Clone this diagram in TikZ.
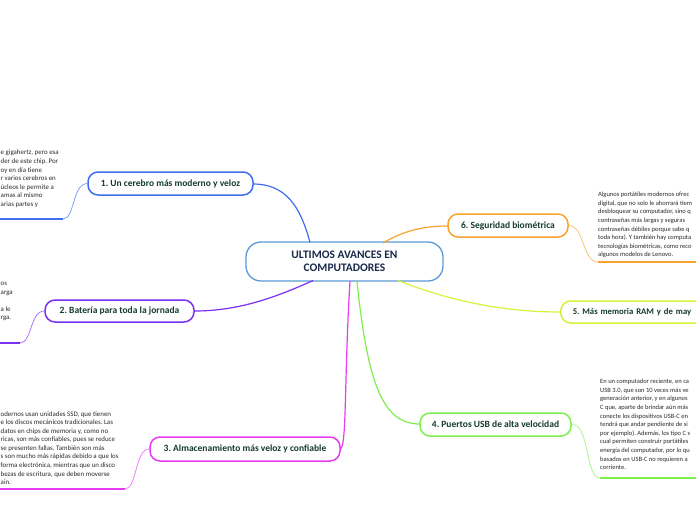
\documentclass[tikz,border=0pt]{standalone}
\usepackage{fontspec}
\setmainfont{Carlito}
\frenchspacing
\definecolor{cblue}{HTML}{5B9BD5}
\definecolor{bone}{HTML}{3F6FF0}
\definecolor{btwo}{HTML}{7B2FF7}
\definecolor{bthree}{HTML}{E53CF2}
\definecolor{bfour}{HTML}{7FEE4F}
\definecolor{bfive}{HTML}{D8F23C}
\definecolor{bsix}{HTML}{F7A32F}
\definecolor{txt}{HTML}{153B2E}
\definecolor{ctxt}{HTML}{1B2A4A}
\definecolor{notetxt}{HTML}{2A2A2A}
\tikzset{
  topic/.style={draw, line width=1.5pt, rounded corners=10pt, fill=white,
    font=\bfseries\fontsize{9.5}{11}\selectfont, text=txt, minimum height=23pt, inner sep=0pt},
  note/.style={font=\fontsize{6.9}{8.6}\selectfont, align=left, text=notetxt, inner sep=0pt, anchor=north west},
  rnote/.style={note, font=\fontsize{6.5}{8.6}\selectfont},
  link/.style={line width=1.2pt},
  sublink/.style={line width=0.8pt},
  uline/.style={line width=1.5pt}
}
\begin{document}
\begin{tikzpicture}[x=1pt,y=-1pt]
\clip (0,0) rectangle (696,520);
\fill[white] (0,0) rectangle (696,520);

% central
\node[draw=cblue, line width=1.3pt, rounded corners=15pt, fill=white, minimum width=197pt, minimum height=39pt,
  font=\bfseries\fontsize{11.5}{13.5}\selectfont, text=ctxt, align=center, inner sep=0pt] (c) at (344.5,261.5)
  {ULTIMOS AVANCES EN\\COMPUTADORES};

% connection points on central node
\coordinate (c1) at (310,242.5);
\coordinate (c6) at (383,243);
\coordinate (c5) at (398,280.5);
\coordinate (c4) at (357,281);
\coordinate (c3) at (350,281);
\coordinate (c2) at (313,280.5);

% links from central
\draw[link, bone] (c1) .. controls (300,205) and (285,184) .. (253,184);
\draw[link, bsix] (c6) .. controls (405,230) and (425,226) .. (448,226);
\draw[link, bfive] (c5) .. controls (460,305) and (515,312) .. (560,312);
\draw[link, bfour] (c4) .. controls (368,390) and (385,424) .. (420,424);
\draw[link, bthree] (c3) .. controls (344,380) and (347,449) .. (340,449);
\draw[link, btwo] (c2) .. controls (270,300) and (235,311) .. (194,311);

% topics
\node[topic, draw=bone, minimum width=165pt] (n1) at (170.5,183.5) {1. Un cerebro más moderno y veloz};
\node[topic, draw=btwo, minimum width=149pt, minimum height=22pt] (n2) at (119.5,311) {2. Batería para toda la jornada};
\node[topic, draw=bthree, minimum width=190pt, minimum height=24pt] (n3) at (245,449) {3. Almacenamiento más veloz y confiable};
\node[topic, draw=bfour, minimum width=151pt] (n4) at (495.5,424.5) {4. Puertos USB de alta velocidad};
\node[topic, draw=bfive, anchor=west, align=left, text width=150pt, inner xsep=12pt, minimum height=22pt,
  font=\bfseries\fontsize{8.7}{11}\selectfont] (n5) at (560,312) {5. Más memoria RAM y de may};
\node[topic, draw=bsix, minimum width=120pt] (n6) at (508,225.5) {6. Seguridad biométrica};

% sub connectors to notes
\coordinate (u1) at (63,219);
\coordinate (u2) at (20,343);
\coordinate (u3) at (125,489);
\coordinate (u6) at (598,262);
\coordinate (u4) at (600,478);
\coordinate (e1) at (0,219);
\coordinate (e2) at (0,343);
\coordinate (e3) at (0,489);
\coordinate (e6) at (700,262);
\coordinate (e4) at (700,478);

\draw[sublink, bone!65] (n1.west) .. controls (72,184) and (75,219) .. (u1);
\draw[uline, bone] (u1) -- (e1);
\draw[sublink, btwo!65] (n2.west) .. controls (30,311) and (32,343) .. (u2);
\draw[uline, btwo] (u2) -- (e2);
\draw[sublink, bthree!65] (n3.west) .. controls (135,449) and (137,489) .. (u3);
\draw[uline, bthree] (u3) -- (e3);
\draw[sublink, bsix!65] (n6.east) .. controls (585,226) and (582,262) .. (u6);
\draw[uline, bsix] (u6) -- (e6);
\draw[sublink, bfour!65] (n4.east) .. controls (590,424) and (585,478) .. (u4);
\draw[uline, bfour] (u4) -- (e4);

% notes
\node[note] (t1) at (0.5,150) {e gigahertz, pero esa\\der de este chip. Por\\oy en día tiene\\r varios cerebros en\\úcleos le permite a\\amas al mismo\\arias partes y};
\node[note] (t2) at (0.5,282) {os\\arga\\[8.6pt]a le\\rga.};
\node[note] (t3) at (0.5,411) {odernos usan unidades SSD, que tienen\\e los discos mecánicos tradicionales. Las\\datos en chips de memoria y, como no\\ricas, son más confiables, pues se reduce\\se presenten fallas. También son más\\s son mucho más rápidas debido a que los\\forma electrónica, mientras que un disco\\bezas de escritura, que deben moverse\\ain.};
\node[rnote] (t6) at (598,192) {Algunos portátiles modernos ofrec\\digital, que no solo le ahorrará tiem\\desbloquear su computador, sino q\\contraseñas más largas y seguras\\contraseñas débiles porque sabe q\\toda hora). Y también hay computa\\tecnologías biométricas, como reco\\algunos modelos de Lenovo.};
\node[rnote] (t4) at (600,379) {En un computador reciente, en ca\\USB 3.0, que son 10 veces más ve\\generación anterior, y en algunos\\C que, aparte de brindar aún más\\conecte los dispositivos USB-C en\\tendrá que andar pendiente de si\\por ejemplo). Además, los tipo C s\\cual permiten construir portátiles\\energía del computador, por lo qu\\basados en USB-C no requieren a\\corriente.};
\end{tikzpicture}
\end{document}
